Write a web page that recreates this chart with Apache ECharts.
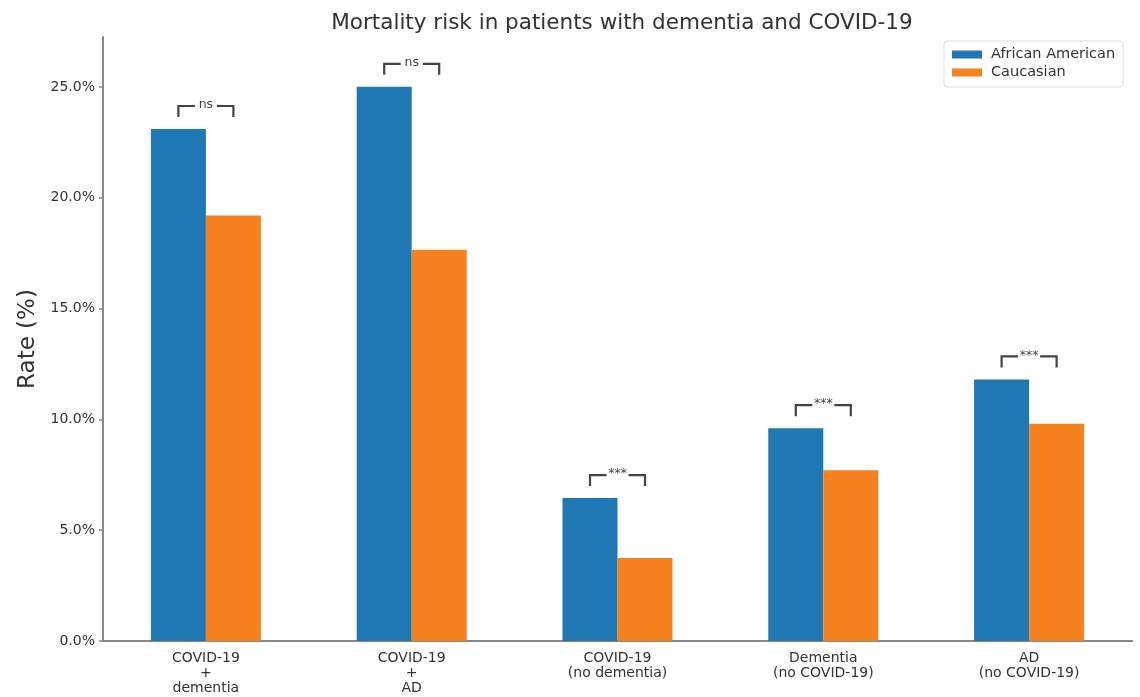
<!DOCTYPE html>
<html>
<head>
<meta charset="utf-8">
<script src="https://cdn.jsdelivr.net/npm/echarts@6/dist/echarts.min.js"></script>
<style>
  html, body { margin: 0; padding: 0; background: #fff; }
  #chart { width: 1140px; height: 697px; }
</style>
</head>
<body>
<div id="chart"></div>
<script>
// Group labels along the x axis
const categories = [
  'COVID-19\n+\ndementia',
  'COVID-19\n+\nAD',
  'COVID-19\n(no dementia)',
  'Dementia\n(no COVID-19)',
  'AD\n(no COVID-19)'
];
// Mortality rates (%) per group
const africanAmerican = [23.1, 25.0, 6.45, 9.6, 11.8];
const caucasian = [19.2, 17.65, 3.75, 7.7, 9.8];
// Significance of the difference within each group
const significance = ['ns', 'ns', '***', '***', '***'];
// Y axis tick values (%)
const yTicks = [0, 5, 10, 15, 20, 25];

const FONT = 'DejaVu Sans';
const BAR_W = 55;

const chart = echarts.init(document.getElementById('chart'), null, { renderer: 'canvas' });

// Bracket above each pair of bars with the significance text in the middle
function renderBracket(params, api) {
  const idx = api.value(0);
  const top = Math.max(africanAmerican[idx], caucasian[idx]);
  const base = api.coord([idx, top]);
  const cx = base[0];
  const yLine = base[1] - 23;
  const x1 = cx - BAR_W / 2;
  const x2 = cx + BAR_W / 2;
  const gap = 11;
  const stroke = { stroke: '#444', lineWidth: 2.2, fill: null };
  return {
    type: 'group',
    children: [
      { type: 'polyline', shape: { points: [[x1, yLine + 11], [x1, yLine], [cx - gap, yLine]] }, style: stroke },
      { type: 'polyline', shape: { points: [[cx + gap, yLine], [x2, yLine], [x2, yLine + 11]] }, style: stroke },
      {
        type: 'text',
        x: cx, y: yLine - 1,
        style: {
          text: significance[idx],
          fontFamily: FONT, fontSize: 12.5, fill: '#444',
          align: 'center', verticalAlign: 'middle'
        }
      }
    ]
  };
}

const option = {
  backgroundColor: '#fff',
  animation: false,
  title: {
    text: 'Mortality risk in patients with dementia and COVID-19',
    left: 617, top: 7, textAlign: 'center',
    textStyle: { fontFamily: FONT, fontSize: 21.5, fontWeight: 'normal', color: '#333' }
  },
  legend: {
    orient: 'vertical',
    left: 944, top: 41,
    itemWidth: 30, itemHeight: 8, itemGap: 3,
    padding: [6, 8, 7, 8],
    borderColor: '#ddd', borderWidth: 1, borderRadius: 3,
    icon: 'rect',
    data: ['African American', 'Caucasian'],
    textStyle: { fontFamily: FONT, fontSize: 14.5, color: '#333', padding: [0, 0, 0, 4] }
  },
  grid: { left: 103, right: 8, top: 37, bottom: 56, containLabel: false },
  xAxis: {
    type: 'category',
    data: categories,
    axisLine: { lineStyle: { color: '#888', width: 2 } },
    axisTick: { alignWithLabel: true, length: 4, lineStyle: { color: '#888', width: 1.5 } },
    axisLabel: { fontFamily: FONT, fontSize: 14, color: '#333', lineHeight: 15, margin: 10, interval: 0 }
  },
  yAxis: {
    type: 'value',
    min: 0, max: 27.25,
    name: 'Rate (%)',
    nameLocation: 'middle',
    nameGap: 62,
    nameTextStyle: { fontFamily: FONT, fontSize: 23, color: '#333' },
    axisLine: { show: true, lineStyle: { color: '#888', width: 2 } },
    axisTick: { show: true, length: 4, lineStyle: { color: '#888', width: 1.5 }, customValues: yTicks },
    axisLabel: {
      fontFamily: FONT, fontSize: 14, color: '#333', margin: 8,
      customValues: yTicks,
      formatter: v => v.toFixed(1) + '%'
    },
    splitLine: { show: false }
  },
  series: [
    {
      name: 'African American', type: 'bar', data: africanAmerican,
      barWidth: BAR_W, barGap: '0%',
      itemStyle: { color: '#1f77b4' }
    },
    {
      name: 'Caucasian', type: 'bar', data: caucasian,
      barWidth: BAR_W, barGap: '0%',
      itemStyle: { color: '#f5821f' }
    },
    {
      type: 'custom',
      data: categories.map((c, i) => [i]),
      renderItem: renderBracket,
      silent: true,
      z: 5
    }
  ]
};

chart.setOption(option);
</script>
</body>
</html>
